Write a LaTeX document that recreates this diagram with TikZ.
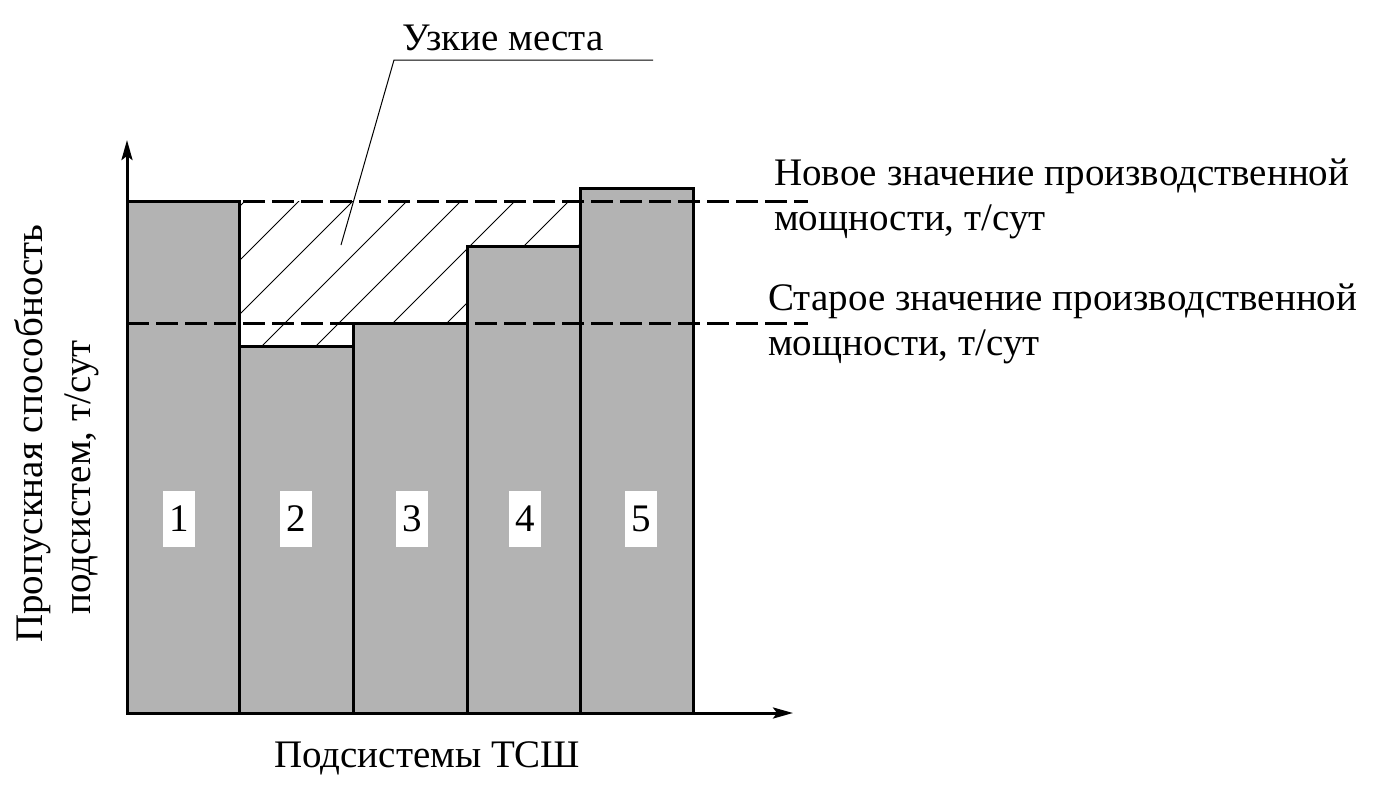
\documentclass[tikz,border=0pt]{standalone}
\usepackage{fontspec}
\setmainfont{Liberation Serif}
\usetikzlibrary{arrows.meta}
\definecolor{barcolor}{RGB}{179, 179, 179}

\begin{document}
\begin{tikzpicture}[
    x=1pt, y=-1pt,
    every node/.style={font=\fontsize{39}{45}\selectfont, inner sep=0pt},
    bar/.style={draw, line width=3pt, fill=barcolor},
    axis/.style={line width=3pt, -{Stealth[length=20pt, width=11pt, inset=4pt]}},
    level/.style={line width=3pt, dash pattern=on 22pt off 7pt},
    hatch/.style={line width=0.9pt},
    leader/.style={line width=1pt},
    numbox/.style={fill=white, minimum width=32pt, minimum height=56pt},
]
    \useasboundingbox (0,0) rectangle (1376,787);

    % Hatched bottleneck area
    \begin{scope}
        \clip (239,201) -- (580,201) -- (580,246) -- (467,246) -- (467,323)
            -- (353,323) -- (353,346) -- (239,346) -- cycle;
        \foreach \k in {0,...,7} {
            \pgfmathsetmacro{\xs}{245+54*\k}
            \draw[hatch] (\xs-200,401) -- (\xs+60,141);
        }
    \end{scope}

    % Bars
    \foreach \l/\r/\t in {127/239/201, 239/353/346, 353/467/323, 467/580/246, 580/693/188}
        \draw[bar] (\l,713) rectangle (\r,\t);

    % Bar numbers
    \foreach \x/\n in {179/1, 296/2, 412/3, 525/4, 641/5}
        \node[numbox] (num\n) at (\x,519) {\n};

    % Capacity levels
    \coordinate (newL) at (127,201);
    \coordinate (newR) at (808,201);
    \coordinate (oldL) at (127,323);
    \coordinate (oldR) at (808,323);
    \draw[level] (newL) -- (newR);
    \draw[level] (oldL) -- (oldR);
    \node[anchor=base west, align=left] (newcap) at (774,230) {Новое значение производственной\\мощности, т/сут};
    \node[anchor=base west, align=left] (oldcap) at (768,355) {Старое значение производственной\\мощности, т/сут};

    % Axes
    \coordinate (origin) at (127,713);
    \coordinate (ytop) at (127,140);
    \coordinate (xend) at (793,713);
    \draw[axis] (origin) -- (ytop);
    \draw[axis] (origin) -- (xend);
    \node[anchor=base west] (xlabel) at (274,767) {Подсистемы ТСШ};
    \node[rotate=90, anchor=base west] (ylabA) at (42,643) {Пропускная способность};
    \node[rotate=90, anchor=base west] (ylabB) at (90,615) {подсистем, т/сут};

    % Bottleneck callout
    \node[anchor=base west] (neck) at (402,50) {Узкие места};
    \coordinate (bend) at (394,60);
    \coordinate (tail) at (653,60);
    \coordinate (tip) at (341,245);
    \draw[leader] (tail) -- (bend) -- (tip);
\end{tikzpicture}
\end{document}
